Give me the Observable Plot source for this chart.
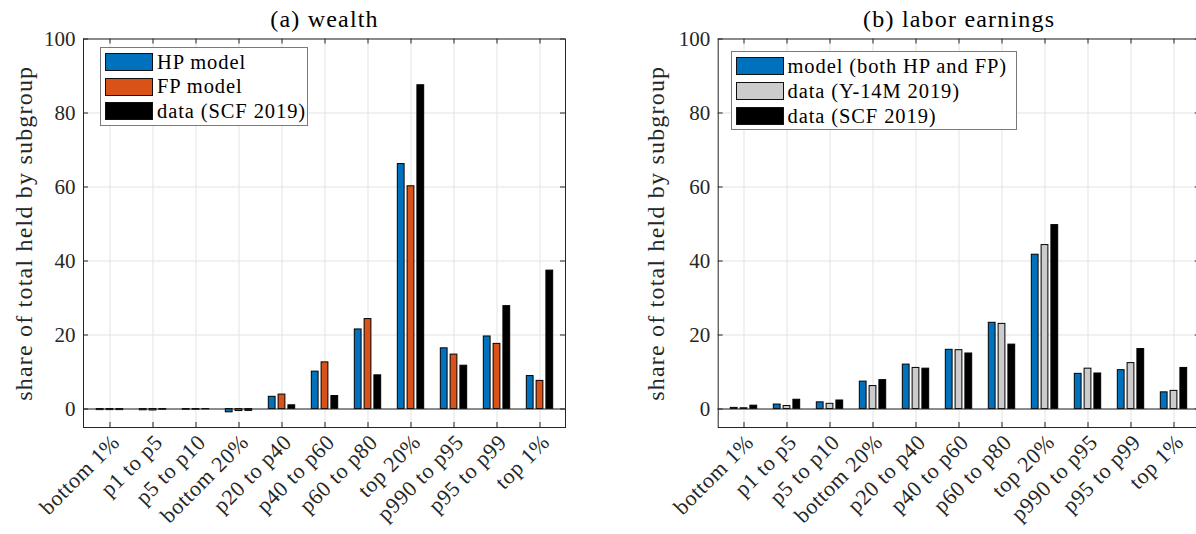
<!DOCTYPE html>
<html><head><meta charset="utf-8">
<script src="https://cdn.jsdelivr.net/npm/d3@7"></script>
<script src="https://cdn.jsdelivr.net/npm/@observablehq/plot@0.6"></script>
<style>
html,body{margin:0;padding:0;background:#fff;overflow:hidden;width:1196px;height:534px}
#wrap{position:relative;width:1220px;height:534px;}
.panel{position:absolute;top:0}
.legend{position:absolute;background:#fff;border:1px solid #7a7a7a;box-sizing:border-box;font-family:"Liberation Serif","Times New Roman",serif;font-size:20.5px;letter-spacing:0.9px;color:#000}
.row{position:absolute;height:18px;display:flex;align-items:center;white-space:nowrap}
.sw{width:48px;height:18px;box-sizing:border-box;border:1px solid #111;margin-right:4px;flex:none}
</style></head>
<body><div id="wrap"></div>
<script>
const categories = ["bottom 1%","p1 to p5","p5 to p10","bottom 20%","p20 to p40","p40 to p60","p60 to p80","top 20%","p990 to p95","p95 to p99","top 1%"];
const yTicks = [0,20,40,60,80,100];

const wealthHP  = [-0.3,-0.35,-0.2,-0.9,3.3,10.1,21.5,66.2,16.4,19.6,8.9];
const wealthFP  = [-0.3,-0.4,-0.2,-0.55,3.9,12.6,24.3,60.2,14.7,17.6,7.6];
const wealthSCF = [-0.3,-0.2,-0.1,-0.5,1.0,3.5,9.1,87.5,11.7,27.8,37.4];

const laborModel = [0.3,1.2,1.8,7.4,12.0,16.0,23.3,41.7,9.5,10.5,4.5];
const laborY14M  = [0.2,0.8,1.4,6.2,11.1,15.9,23.0,44.3,10.9,12.4,4.9];
const laborSCF   = [0.9,2.5,2.3,7.8,10.9,15.0,17.4,49.7,9.6,16.2,11.1];

const wealthNames = ["HP model","FP model","data (SCF 2019)"];
const laborNames = ["model (both HP and FP)","data (Y-14M 2019)","data (SCF 2019)"];
const wealthColors = ["#0072BD","#D95319","#000000"];
const laborColors = ["#0072BD","#CCCCCC","#000000"];

const FONT = "'Liberation Serif', 'Times New Roman', serif";
const H = 534, MT = 38.5, MB = 107, FW = 482;
const frameH = H - MT - MB;
const band = FW / categories.length;
const barW = 7.6, gap = 9.8;
const ins = (band - barW) / 2;

function panel(title, seriesList, colors, left, width, marginLeft, ylabDx) {
  const rows = categories.map((c, i) => ({c, v0: seriesList[0][i], v1: seriesList[1][i], v2: seriesList[2][i]}));
  const marginRight = width - marginLeft - FW;
  const bars = ["v0","v1","v2"].map((k, j) => Plot.barY(rows, {
    x: "c", y: k, fill: colors[j], stroke: "#000", strokeWidth: 1,
    insetLeft: ins, insetRight: ins, dx: (j - 1) * gap
  }));
  const svg = Plot.plot({
    width, height: H, marginTop: MT, marginBottom: MB, marginLeft, marginRight,
    style: {fontFamily: FONT, color: "#262626", background: "#fff"},
    x: {type: "band", domain: categories, padding: 0},
    y: {domain: [-5, 100]},
    marks: [
      Plot.gridX({stroke: "#e3e3e3", strokeOpacity: 1}),
      Plot.gridY(yTicks, {stroke: "#e3e3e3", strokeOpacity: 1}),
      Plot.tickX(categories, {x: d => d, insetTop: frameH - 5, stroke: "#262626"}),
      Plot.tickX(categories, {x: d => d, insetBottom: frameH - 5, stroke: "#262626"}),
      Plot.tickY(yTicks, {y: d => d, insetRight: FW - 5, stroke: "#262626"}),
      Plot.tickY(yTicks, {y: d => d, insetLeft: FW - 5, stroke: "#262626"}),
      ...bars,
      Plot.ruleY([0], {stroke: "#262626", strokeWidth: 1}),
      Plot.frame({stroke: "#262626"}),
      Plot.axisX({tickSize: 0, tickPadding: 11, dx: 6, tickRotate: -45, fontSize: 22, label: null, fill: "#262626"}),
      Plot.axisY({ticks: yTicks, tickSize: 0, tickPadding: 8, fontSize: 21, label: null, fill: "#262626"}),
      Plot.text(["share of total held by subgroup"], {frameAnchor: "left", dx: ylabDx, rotate: -90, fontSize: 24, textAnchor: "middle", lineAnchor: "middle", fill: "#262626"}),
      Plot.text([title], {frameAnchor: "top", dy: -19.5, fontSize: 24, lineAnchor: "middle", fill: "#000"})
    ]
  });
  svg.classList.add("panel");
  svg.style.left = left + "px";
  svg.querySelectorAll("text").forEach(t => t.style.fontFamily = FONT);
  svg.querySelectorAll('g[aria-label="x-axis tick label"] text').forEach(t => t.style.letterSpacing = "0.6px");
  svg.querySelectorAll('g[aria-label="text"] text').forEach(t => t.style.letterSpacing = "1.2px");
  return svg;
}

function legend(names, colors, box) {
  const d = document.createElement("div");
  d.className = "legend";
  Object.assign(d.style, {left: box.x + "px", top: box.y + "px", width: box.w + "px", height: box.h + "px"});
  names.forEach((n, i) => {
    const r = document.createElement("div");
    r.className = "row";
    r.style.left = "4px";
    r.style.top = (box.pad + i * box.step) + "px";
    const s = document.createElement("div");
    s.className = "sw";
    s.style.background = colors[i];
    r.appendChild(s);
    const t = document.createElement("span");
    t.textContent = n;
    r.appendChild(t);
    d.appendChild(r);
  });
  return d;
}

const wrap = document.getElementById("wrap");
wrap.appendChild(panel("(a) wealth", [wealthHP, wealthFP, wealthSCF], wealthColors, 0, 598, 83, -59));
wrap.appendChild(panel("(b) labor earnings", [laborModel, laborY14M, laborSCF], laborColors, 598, 612, 119.7, -62));
wrap.appendChild(legend(wealthNames, wealthColors, {x: 100, y: 47, w: 208, h: 79, pad: 5, step: 24.7}));
wrap.appendChild(legend(laborNames, laborColors, {x: 730.5, y: 50.5, w: 286, h: 79, pad: 5.5, step: 25}));
</script>
</body></html>
